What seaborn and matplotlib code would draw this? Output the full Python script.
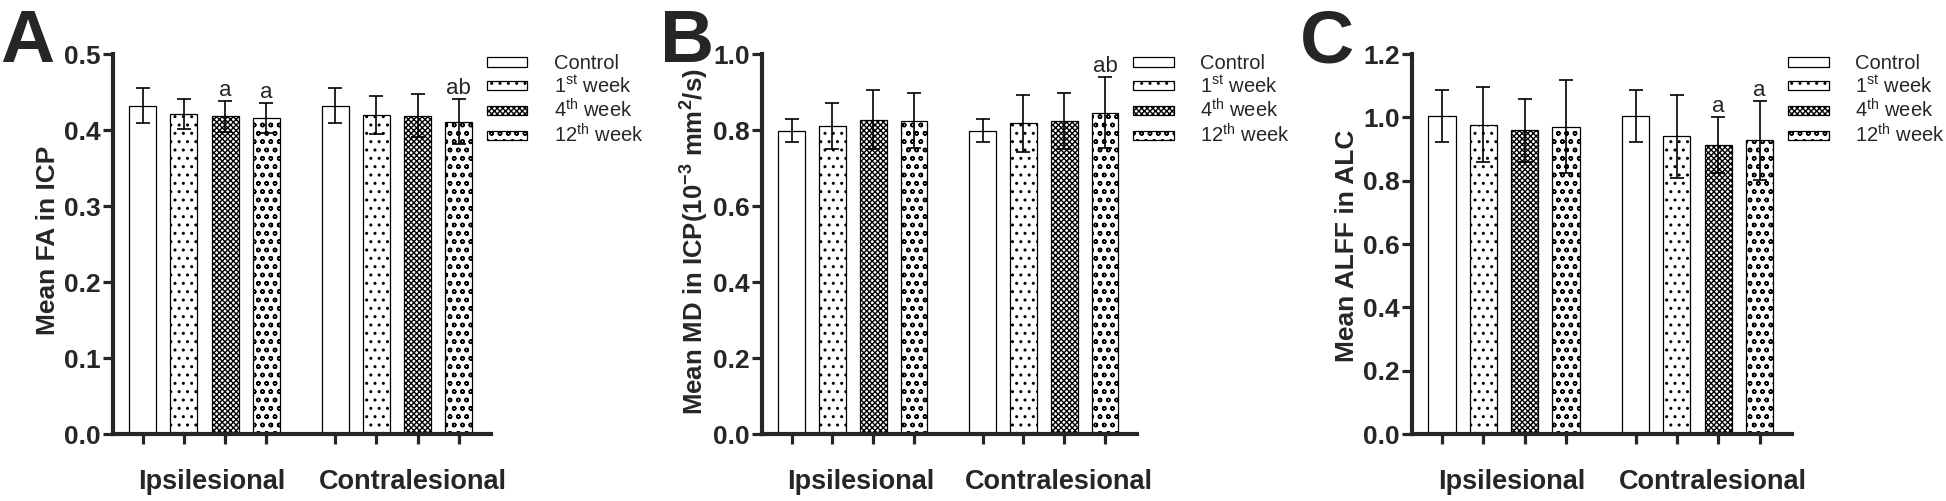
import numpy as np
import pandas as pd
import matplotlib
matplotlib.use("Agg")
import matplotlib.pyplot as plt
import seaborn as sns
from matplotlib.ticker import FormatStrFormatter

# Data
sides = ['Ipsilesional', 'Contralesional']
groups = ['Control', '1st week', '4th week', '12th week']
legend_labels = ['Control', '1$^{\\mathrm{st}}$ week', '4$^{\\mathrm{th}}$ week', '12$^{\\mathrm{th}}$ week']

# order: Ipsi (Control, 1st, 4th, 12th), Contra (Control, 1st, 4th, 12th)
fa_mean = [0.432, 0.421, 0.418, 0.416, 0.432, 0.420, 0.419, 0.411]
fa_sd = [0.023, 0.020, 0.020, 0.020, 0.023, 0.025, 0.028, 0.030]
fa_marks = ['', '', 'a', 'a', '', '', '', 'ab']

md_mean = [0.798, 0.810, 0.827, 0.825, 0.798, 0.818, 0.824, 0.846]
md_sd = [0.030, 0.061, 0.078, 0.072, 0.030, 0.075, 0.074, 0.094]
md_marks = ['', '', '', '', '', '', '', 'ab']

alff_mean = [1.003, 0.977, 0.959, 0.970, 1.003, 0.940, 0.912, 0.927]
alff_sd = [0.082, 0.119, 0.099, 0.147, 0.082, 0.131, 0.088, 0.125]
alff_marks = ['', '', '', '', '', '', 'a', 'a']

hatches = ['', '..', 'xxxxxx', 'oo']

sns.set_style("ticks")
plt.rcParams['font.family'] = ['Liberation Sans', 'DejaVu Sans']
plt.rcParams['mathtext.fontset'] = 'custom'
plt.rcParams['mathtext.rm'] = 'Liberation Sans'
plt.rcParams['mathtext.bf'] = 'Liberation Sans:bold'
plt.rcParams['hatch.linewidth'] = 1.0
plt.rcParams['hatch.color'] = 'black'


def panel(ax, means, sds, marks, ylabel, ylabel_size, ymax, ystep, label_y):
    df = pd.DataFrame({
        'Side': np.repeat(sides, len(groups)),
        'Group': groups * len(sides),
        'Mean': means,
    })
    sns.barplot(data=df, x='Side', y='Mean', hue='Group', order=sides, hue_order=groups,
                palette={g: 'white' for g in groups}, saturation=1,
                edgecolor='black', linewidth=0.9, width=0.854, gap=0.344,
                errorbar=None, legend=False, ax=ax)
    bars = list(ax.containers)

    # bar centres, in the same order as the data
    xs = np.zeros(len(means))
    for j, cont in enumerate(bars):
        for k, p in enumerate(cont.patches):
            p.set_hatch(hatches[j])
            xs[k * len(groups) + j] = p.get_x() + p.get_width() / 2

    ax.errorbar(xs, means, yerr=sds, fmt='none', ecolor='black', elinewidth=1.2,
                capsize=4.8, capthick=1.2, zorder=3)
    for x, m, s, t in zip(xs, means, sds, marks):
        if t:
            ax.text(x, m + s, t, ha='center', va='bottom', fontsize=16)

    ax.set_xlim(-0.475, 1.488)
    ax.set_ylim(0, ymax)
    ax.set_yticks(np.arange(0, ymax + 1e-9, ystep))
    ax.yaxis.set_major_formatter(FormatStrFormatter('%.1f'))
    # group labels sit a little right of the group centres in the original
    ax.set_xticks([0.04, 1.08], sides)
    ax.set_xticks(xs, minor=True)
    ax.tick_params(axis='x', which='major', length=0, pad=25, labelsize=19.5)
    ax.tick_params(axis='x', which='minor', length=7, width=2.3, direction='out')
    ax.tick_params(axis='y', length=7, width=2.3, pad=2, labelsize=19)
    for lab in ax.get_xticklabels() + ax.get_yticklabels():
        lab.set_fontweight('bold')
    sns.despine(ax=ax)
    for sp in ['left', 'bottom']:
        ax.spines[sp].set_linewidth(3)
    ax.set_xlabel('')
    ax.set_ylabel(ylabel, fontsize=ylabel_size, fontweight='bold')
    ax.yaxis.set_label_coords(-0.14, label_y)

    handles = [cont.patches[0] for cont in bars]
    ax.legend(handles, legend_labels, loc='upper left', bbox_to_anchor=(0.99, 1.0),
              frameon=False, fontsize=14.5, handlelength=2.0, handleheight=0.35,
              handletextpad=1.3, labelspacing=0.1, borderpad=0, borderaxespad=0)


fig = plt.figure(figsize=(19.46, 5.01), dpi=100)
axA = fig.add_axes([0.0581, 0.1337, 0.1942, 0.7585])
axB = fig.add_axes([0.3916, 0.1337, 0.1927, 0.7585])
axC = fig.add_axes([0.7256, 0.1337, 0.1953, 0.7585])

panel(axA, fa_mean, fa_sd, fa_marks, 'Mean FA in ICP', 19, 0.5, 0.1, 0.51)
panel(axB, md_mean, md_sd, md_marks,
      'Mean MD in ICP(10$^{\\mathbf{-3}}$ mm$^{\\mathbf{2}}$/s)', 18.5, 1.0, 0.2, 0.505)
panel(axC, alff_mean, alff_sd, alff_marks, 'Mean ALFF in ALC', 19, 1.2, 0.2, 0.495)

for x, letter in [(0.0, 'A'), (0.339, 'B'), (0.668, 'C')]:
    fig.text(x, 0.876, letter, fontsize=54, fontweight='bold', ha='left', va='baseline')

fig.savefig('out.png', dpi=100)
